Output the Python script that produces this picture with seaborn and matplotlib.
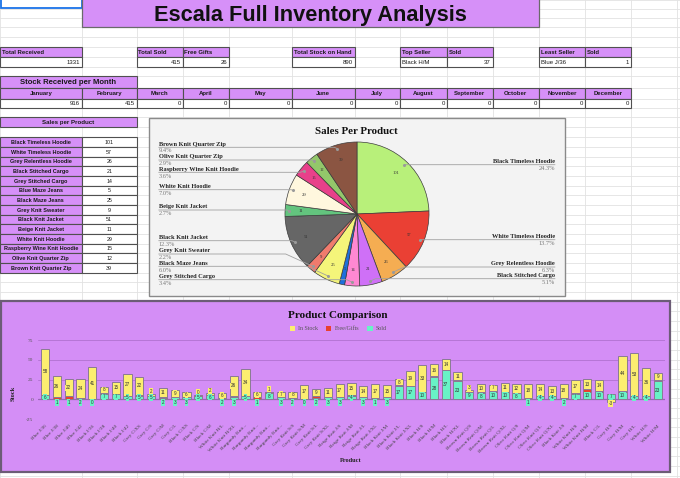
import numpy as np
import pandas as pd
import matplotlib
matplotlib.use("Agg")
import matplotlib.pyplot as plt
from matplotlib.patches import Rectangle
import seaborn as sns

sns.set_style("white")
plt.rcParams['font.family'] = ['Liberation Sans', 'DejaVu Sans']
SERIF = ['Liberation Serif', 'DejaVu Serif']
SANS = ['Liberation Sans', 'DejaVu Sans']

# ---------------- data ----------------
title_text = "Escala Full Inventory Analysis"
summary_headers = ["Total Received", "Total Sold", "Free Gifts", "Total Stock on Hand",
                   "Top Seller", "Sold", "Least Seller", "Sold"]
summary_values = ["1331", "415", "26", "890", "Black H/M", "37", "Blue J/36", "1"]

months = ["January", "February", "March", "April", "May", "June", "July",
          "August", "September", "October", "November", "December"]
month_received = [916, 415, 0, 0, 0, 0, 0, 0, 0, 0, 0, 0]

products = ["Black Timeless Hoodie", "White Timeless Hoodie", "Grey Relentless Hoodie",
            "Black Stitched Cargo", "Grey Stitched Cargo", "Blue Maze Jeans",
            "Black Maze Jeans", "Grey Knit Sweater", "Black Knit Jacket",
            "Beige Knit Jacket", "White Knit Hoodie", "Raspberry Wine Knit Hoodie",
            "Olive Knit Quarter Zip", "Brown Knit Quarter Zip"]
product_sales = [101, 57, 26, 21, 14, 5, 25, 9, 51, 11, 29, 15, 12, 39]
pie_colors = ["#b8f07a", "#ea4034", "#f5ad52", "#cf70f7", "#ff88d2", "#1e6fdc",
              "#f4f57a", "#f07b6d", "#666666", "#63c47e", "#fff7de", "#e8408a",
              "#93c76a", "#8b5542"]

variants = ["Blue J/36", "Blue J/38", "Blue J/40", "Blue J/42", "Black J/36", "Black J/38",
            "Black J/40", "Black J/42", "Grey C/XS", "Grey C/S", "Grey C/M", "Grey C/L",
            "Black C/XS", "Black C/S", "Black C/M", "White Knit H/L", "White Knit H/XL",
            "Burgundy Knit...", "Burgundy Knit...", "Burgundy Knit...", "Burgundy Knit...",
            "Grey Knit S/S", "Grey Knit S/M", "Grey Knit S/L", "Grey Knit S/XL",
            "Beige Knit J/S", "Beige Knit J/M", "Beige Knit J/L", "Beige Knit J/XL",
            "Black Knit J/M", "Black Knit J/L", "Black Knit J/XL", "Black H/S", "Black H/M",
            "Black H/L", "Black H/XL", "Brown Knit Q/S", "Brown Knit Q/M", "Brown Knit Q/L",
            "Brown Knit Q/XL", "Olive Knit Q/S", "Olive Knit Q/M", "Olive Knit Q/L",
            "Olive Knit Q/XL", "Black Knit J/S", "White Knit H/S", "White Knit H/M",
            "Black C/L", "Grey H/S", "Grey H/M", "Grey H/L", "White H/S", "White H/M"]
in_stock = [58, 26, 22, 24, 41, 8, 15, 27, 22, 2, 11, 9, 6, 0, 2, 6, 26, 34, 6, 1, 7, 8,
            17, 9, 11, 17, 15, 14, 17, 15, 8, 19, 33, 16, 14, 11, 3, 10, 7, 11, 12, 18,
            14, 13, 18, 17, 13, 14, -3, 44, 53, 36, 9]
free_gifts = [0, 2, 3, 0, 0, 1, 0, 0, 1, 0, 1, 0, 0, 1, 0, 0, 1, 0, 2, 1, 0, 0, 1, 2, 0,
              0, 2, 0, 1, 0, 1, 0, 0, 1, 0, 1, 0, 1, 1, 0, 0, 1, 1, 0, 0, 1, 3, 1, 0, 1,
              1, 0, 1]
sold = [6, 1, 1, 2, 0, 7, 7, 5, 5, 5, 2, 3, 3, 5, 6, 2, 3, 5, 1, 8, 3, 2, 0, 2, 3, 3, 4,
        3, 1, 3, 17, 17, 10, 28, 37, 23, 9, 8, 10, 10, 8, 1, 4, 4, 2, 7, 10, 10, 7, 10, 4,
        4, 23]
series_names = ["In Stock", "Free/Gifts", "Sold"]

# ---------------- style ----------------
PURPLE = "#d690f8"
STOCK_C = "#fcee70"
FREE_C = "#e8412f"
SOLD_C = "#68f3c6"
EDGE = "#8a7a94"
GRID = "#e2e2e2"
BORDER = "#505050"

W, H = 680, 478
fig = plt.figure(figsize=(W / 100, H / 100), dpi=100)
bg = fig.add_axes([0, 0, 1, 1])
bg.set_xlim(0, W)
bg.set_ylim(H, 0)
bg.axis('off')

col_edges = [0, 81.7, 136.7, 182.7, 229.3, 292, 354.5, 400, 446.7, 492.7, 539, 585,
             630.7, 677, 723]
row_edges = [0, 9.3, 18.3, 27.3, 37, 46.7, 56.7, 66.7, 76.3, 88.3, 98.7, 108.3, 117.3,
             127.3, 137.3]
while row_edges[-1] < H:
    row_edges.append(row_edges[-1] + 9.67)

for x in col_edges:
    bg.plot([x, x], [0, H], color=GRID, lw=0.6, zorder=1)
for y in row_edges:
    bg.plot([0, W], [y, y], color=GRID, lw=0.6, zorder=1)


def cell(x0, x1, y0, y1, text="", fill="white", ha="left", bold=False, fs=4.3,
         edge=BORDER, lw=0.8):
    bg.add_patch(Rectangle((x0, y0), x1 - x0, y1 - y0, facecolor=fill, edgecolor=edge,
                           lw=lw, zorder=3))
    if text != "":
        if ha == "left":
            tx = x0 + 1.8
        elif ha == "right":
            tx = x1 - 1.8
        else:
            tx = (x0 + x1) / 2
        bg.text(tx, (y0 + y1) / 2 + 0.3, text, ha=ha, va='center', fontsize=fs,
                fontweight='bold' if bold else 'normal', color='#1a1a1a', family=SANS,
                zorder=4)


# active cell
bg.add_patch(Rectangle((0.5, -2), 81, 9.5, facecolor='white', edgecolor='#1a73e8',
                       lw=1.3, zorder=3))
# title
bg.add_patch(Rectangle((col_edges[1], -2), col_edges[10] - col_edges[1], 29.3,
                       facecolor=PURPLE, edgecolor='#6a6a6a', lw=0.9, zorder=3))
bg.text((col_edges[1] + col_edges[10]) / 2, 21, title_text, ha='center', va='baseline',
        fontsize=15.7, fontweight='bold', color='#111111', family=SANS, zorder=4)

# summary cells
summary_cols = [(0, 1), (2, 3), (3, 4), (5, 6), (7, 8), (8, 9), (10, 11), (11, 12)]
for (a, b), head, val in zip(summary_cols, summary_headers, summary_values):
    cell(col_edges[a], col_edges[b], row_edges[5], row_edges[6], head, PURPLE, 'left', True)
    cell(col_edges[a], col_edges[b], row_edges[6], row_edges[7], val, 'white',
         'right' if val.isdigit() else 'left', False)

# stock received per month
cell(col_edges[0], col_edges[2], row_edges[8], row_edges[9], "Stock Received per Month",
     PURPLE, 'center', True, fs=5.6)
for i, (m, v) in enumerate(zip(months, month_received)):
    cell(col_edges[i], col_edges[i + 1], row_edges[9], row_edges[10], m, PURPLE, 'center', True)
    cell(col_edges[i], col_edges[i + 1], row_edges[10], row_edges[11], str(v), 'white', 'right')

# sales per product table
cell(col_edges[0], col_edges[2], row_edges[12], row_edges[13], "Sales per Product",
     PURPLE, 'center', True, fs=4.4)
for i, (p, v) in enumerate(zip(products, product_sales)):
    y0 = row_edges[14 + i]
    y1 = row_edges[15 + i]
    cell(col_edges[0], col_edges[1], y0, y1, p, PURPLE, 'center', True, fs=4.0)
    cell(col_edges[1], col_edges[2], y0, y1, str(v), 'white', 'center', False, fs=3.8)

# chart frames
bg.add_patch(Rectangle((149, 117.5), 416, 178.5, facecolor='#f3f3f3', edgecolor='#8a8a8a',
                       lw=1.0, zorder=5))
bg.add_patch(Rectangle((1, 301), 669, 171, facecolor='#d48ef6', edgecolor='#6c5c76',
                       lw=1.6, zorder=5))

# ---------------- pie ----------------
PCX, PCY, PR = 357, 214, 72
pax = fig.add_axes([(PCX - PR) / W, 1 - (PCY + PR) / H, 2 * PR / W, 2 * PR / H])
wedges, _ = pax.pie(product_sales, colors=pie_colors, startangle=90, counterclock=False,
                    wedgeprops=dict(edgecolor='#3c3c3c', linewidth=0.5))
pax.set_xlim(-1, 1)
pax.set_ylim(-1, 1)
mids = []
for w, v in zip(wedges, product_sales):
    ang = np.deg2rad((w.theta1 + w.theta2) / 2)
    mids.append(ang)
    pax.text(0.78 * np.cos(ang), 0.78 * np.sin(ang), str(v), ha='center', va='center',
             fontsize=3.3, color='#333333', family=SERIF)

# ---------------- bars ----------------
bax = fig.add_axes([38 / W, 1 - 419.3 / H, (665 - 38) / W, 79.3 / H])
bax.patch.set_alpha(0)
idx = np.arange(len(variants))
stock_a = np.array(in_stock, dtype=float)
free_a = np.array(free_gifts, dtype=float)
sold_a = np.array(sold, dtype=float)

df = pd.DataFrame({"variant_no": idx, "Sold": sold_a})
sns.barplot(data=df, x="variant_no", y="Sold", color=SOLD_C, saturation=1, width=0.7,
            errorbar=None, edgecolor=EDGE, linewidth=0.7, ax=bax, zorder=3)
fm = free_a > 0
bax.bar(idx[fm], free_a[fm], bottom=sold_a[fm], width=0.7, color=FREE_C, edgecolor=EDGE,
        linewidth=0.7, zorder=3)
base = np.where(stock_a >= 0, sold_a + free_a, 0)
sm = stock_a != 0
bax.bar(idx[sm], stock_a[sm], bottom=base[sm], width=0.7, color=STOCK_C, edgecolor=EDGE,
        linewidth=0.7, zorder=3)

lab_kw = dict(ha='center', va='center', fontsize=3.3, color='#333333', family=SANS, zorder=5)
for i in idx:
    if stock_a[i] < 0:
        ys = stock_a[i] - 2.5
    elif stock_a[i] < 4:
        ys = base[i] + stock_a[i] + 3.0
    else:
        ys = base[i] + stock_a[i] / 2
    yso = sold_a[i] / 2 if sold_a[i] >= 4 else -3.8
    bax.text(i, ys, f"{int(stock_a[i])}",
             bbox=dict(boxstyle='square,pad=0.12', fc=STOCK_C, ec='none'), **lab_kw)
    bax.text(i, yso, f"{int(sold_a[i])}",
             bbox=dict(boxstyle='square,pad=0.12', fc=SOLD_C, ec='none'), **lab_kw)

yt = [-25, 0, 25, 50, 75]
for v in yt:
    bax.axhline(v, color='#b676d6' if v != 0 else '#9a62b8', lw=0.7 if v != 0 else 0.9,
                zorder=1)
bax.set_ylim(-25, 75)
bax.set_xlim(-0.6, len(variants) - 0.4)
bax.set_yticks(yt)
bax.set_yticklabels([str(v) for v in yt], fontsize=3.9, color='#555555', family=SERIF)
bax.set_xticks(idx)
bax.set_xticklabels(variants, rotation=45, ha='right', rotation_mode='anchor',
                    fontsize=3.7, color='#444444', family=SERIF)
bax.tick_params(axis='both', length=0)
bax.tick_params(axis='y', pad=3.5)
bax.tick_params(axis='x', pad=3.2)
bax.set_xlabel("")
bax.set_ylabel("")
for s in bax.spines.values():
    s.set_visible(False)

# ---------------- overlay texts ----------------
ov = fig.add_axes([0, 0, 1, 1])
ov.set_xlim(0, W)
ov.set_ylim(H, 0)
ov.axis('off')

ov.text(356, 131, "Sales Per Product", ha='center', va='center', fontsize=7.8,
        fontweight='bold', color='#111111', family=SERIF)

pie_label_layout = [(0, 'R', 164.7), (1, 'R', 239.7), (2, 'R', 267.0), (3, 'R', 278.7),
                    (4, 'L', 279.7), (6, 'L', 266.3), (7, 'L', 254.0), (8, 'L', 240.7),
                    (9, 'L', 210.0), (10, 'L', 189.7), (11, 'L', 172.3), (12, 'L', 160.0),
                    (13, 'L', 147.3)]
total_sales = sum(product_sales)
for k, side, ly in pie_label_layout:
    ang = mids[k]
    ax_ = PCX + 0.95 * PR * np.cos(ang)
    ay_ = PCY - 0.95 * PR * np.sin(ang)
    dy = abs(ay_ - ly)
    if side == 'R':
        lx = 555
        knee = ax_ + 2.2 * dy
        ha = 'right'
    else:
        lx = 158.7
        knee = ax_ - 2.2 * dy
        ha = 'left'
    ov.plot([lx, knee, ax_], [ly, ly, ay_], color='#a0a0a0', lw=0.6)
    ov.plot([ax_], [ay_], marker='o', ms=1.2, color='#9a9a9a')
    ov.text(lx, ly - 3.2, products[k], ha=ha, va='center', fontsize=4.6, fontweight='bold',
            color='#222222', family=SERIF)
    ov.text(lx, ly + 3.7, f"{product_sales[k] / total_sales * 100:.1f}%", ha=ha, va='center',
            fontsize=4.6, color='#7a7a7a', family=SERIF)

ov.text(338, 315, "Product Comparison", ha='center', va='center', fontsize=8,
        fontweight='bold', color='#111111', family=SERIF)
legend_x = [289.5, 326.0, 367.3]
legend_c = [STOCK_C, FREE_C, SOLD_C]
for lx, c, name in zip(legend_x, legend_c, series_names):
    ov.add_patch(Rectangle((lx, 325.8), 5.2, 5.2, facecolor=c, edgecolor='none'))
    ov.text(lx + 8.5, 328.6, name, ha='left', va='center', fontsize=4.3, color='#555555',
            family=SERIF)
ov.text(13, 393, "Stock", rotation=90, ha='center', va='center', fontsize=4.6,
        fontweight='bold', color='#222222', family=SERIF)
ov.text(351, 461, "Product", ha='center', va='center', fontsize=4.6, fontweight='bold',
        color='#222222', family=SERIF)

fig.savefig("out.png", dpi=100)
